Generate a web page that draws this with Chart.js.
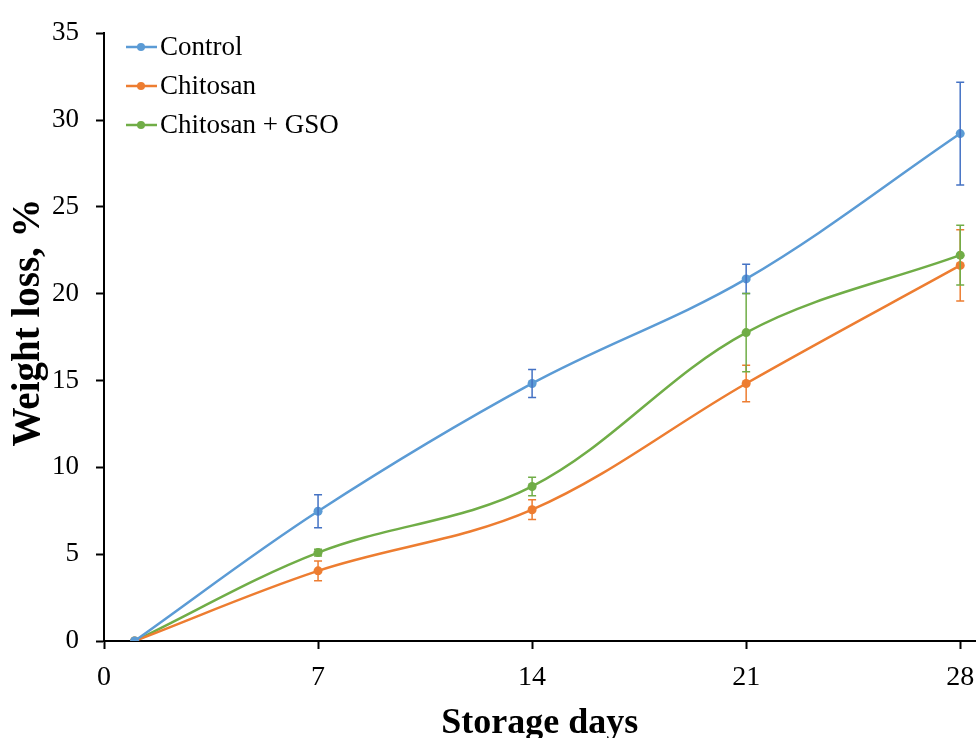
<!DOCTYPE html>
<html>
<head>
<meta charset="utf-8">
<title>Weight loss</title>
<script src="https://cdn.jsdelivr.net/npm/chart.js@4.4.1/dist/chart.umd.min.js"></script>
<style>
  body { margin: 0; background: #fff; }
  #wrap { width: 980px; height: 738px; }
</style>
</head>
<body>
<div id="wrap"><canvas id="myChart" width="980" height="738"></canvas></div>
<script>
const days = [1, 7, 14, 21, 28];
const xTicks = [0, 7, 14, 21, 28];

const controlVals = [0, 7.47, 14.83, 20.85, 29.22];
const controlErr = [0, 0.95, 0.81, 0.84, 2.96];
const chitosanVals = [0, 4.04, 7.56, 14.83, 21.63];
const chitosanErr = [0, 0.57, 0.57, 1.05, 2.05];
const gsoVals = [0, 5.09, 8.9, 17.76, 22.22];
const gsoErr = [0, 0.2, 0.53, 2.25, 1.72];

const seriesNames = ["Control", "Chitosan", "Chitosan + GSO"];
const lineColors = ["#5B9BD5", "#ED7D31", "#70AD47"];
const errColors = ["#4472C4", "#ED7D31", "#70AD47"];

const FONT = "'Liberation Serif', 'Times New Roman', serif";

function toPoints(vals) {
  return days.map((d, i) => ({ x: d, y: vals[i] }));
}

const allVals = [controlVals, chitosanVals, gsoVals];
const allErr = [controlErr, chitosanErr, gsoErr];

// error bars drawn with the chart scales
const errorBars = {
  id: "errorBars",
  afterDatasetsDraw(chart) {
    const ctx = chart.ctx;
    const xs = chart.scales.x, ys = chart.scales.y;
    allVals.forEach((vals, s) => {
      ctx.save();
      ctx.strokeStyle = errColors[s];
      ctx.lineWidth = 1.5;
      vals.forEach((v, i) => {
        const e = allErr[s][i];
        if (!e) return;
        const px = xs.getPixelForValue(days[i]);
        const top = ys.getPixelForValue(v + e);
        const bot = ys.getPixelForValue(v - e);
        ctx.beginPath();
        ctx.moveTo(px, top); ctx.lineTo(px, bot);
        ctx.moveTo(px - 4, top); ctx.lineTo(px + 4, top);
        ctx.moveTo(px - 4, bot); ctx.lineTo(px + 4, bot);
        ctx.stroke();
      });
      ctx.restore();
    });
  }
};

// legend inside the plot, line with dot
const innerLegend = {
  id: "innerLegend",
  afterDraw(chart) {
    const ctx = chart.ctx;
    ctx.save();
    chart.data.datasets.forEach((ds, i) => {
      const y = 47 + i * 39;
      ctx.strokeStyle = ds.borderColor;
      ctx.lineWidth = 2.5;
      ctx.beginPath();
      ctx.moveTo(126, y); ctx.lineTo(157, y);
      ctx.stroke();
      ctx.fillStyle = ds.borderColor;
      ctx.beginPath();
      ctx.arc(141, y, 4, 0, Math.PI * 2);
      ctx.fill();
      ctx.fillStyle = "#000";
      ctx.font = "27px " + FONT;
      ctx.textBaseline = "middle";
      ctx.textAlign = "left";
      ctx.fillText(ds.label, 160, y + 1);
    });
    ctx.restore();
  }
};

const ctx = document.getElementById("myChart").getContext("2d");
new Chart(ctx, {
  type: "line",
  data: {
    datasets: allVals.map((vals, s) => ({
      label: seriesNames[s],
      data: toPoints(vals),
      borderColor: lineColors[s],
      backgroundColor: lineColors[s],
      pointBackgroundColor: lineColors[s],
      pointBorderColor: lineColors[s],
      borderWidth: 2.5,
      pointRadius: 4.5,
      pointBorderWidth: 0,
      tension: 0.35,
      fill: false,
    })),
  },
  options: {
    responsive: false,
    animation: false,
    layout: { padding: { top: 29, right: 0, bottom: 0, left: 0 } },
    plugins: {
      legend: { display: false },
      tooltip: { enabled: false },
    },
    scales: {
      x: {
        type: "linear",
        min: 0,
        max: 28.5,
        afterBuildTicks: (axis) => {
          axis.ticks = xTicks.map((v) => ({ value: v }));
        },
        afterFit: (axis) => {
          axis.height = 97;
          axis.paddingRight = 0;
        },
        border: { color: "#000", width: 2 },
        grid: { drawOnChartArea: false, drawTicks: true, tickLength: 8, tickColor: "#000", tickWidth: 2 },
        ticks: { color: "#000", font: { family: FONT, size: 28 }, padding: 12, maxRotation: 0 },
        title: {
          display: true,
          text: "Storage days",
          color: "#000",
          font: { family: FONT, size: 36, weight: "bold", lineHeight: 0.8 },
          padding: { top: 0, bottom: 0 },
        },
      },
      y: {
        min: 0,
        max: 35,
        afterFit: (axis) => { axis.width = 104; },
        border: { color: "#000", width: 2 },
        grid: { drawOnChartArea: false, drawTicks: true, tickLength: 8, tickColor: "#000", tickWidth: 2 },
        ticks: { stepSize: 5, color: "#000", font: { family: FONT, size: 27 }, padding: 17 },
        title: {
          display: true,
          text: "   Weight loss, %",
          color: "#000",
          font: { family: FONT, size: 39, weight: "bold", lineHeight: 1 },
          padding: { top: 9, bottom: 0 },
        },
      },
    },
  },
  plugins: [errorBars, innerLegend],
});
</script>
</body>
</html>
